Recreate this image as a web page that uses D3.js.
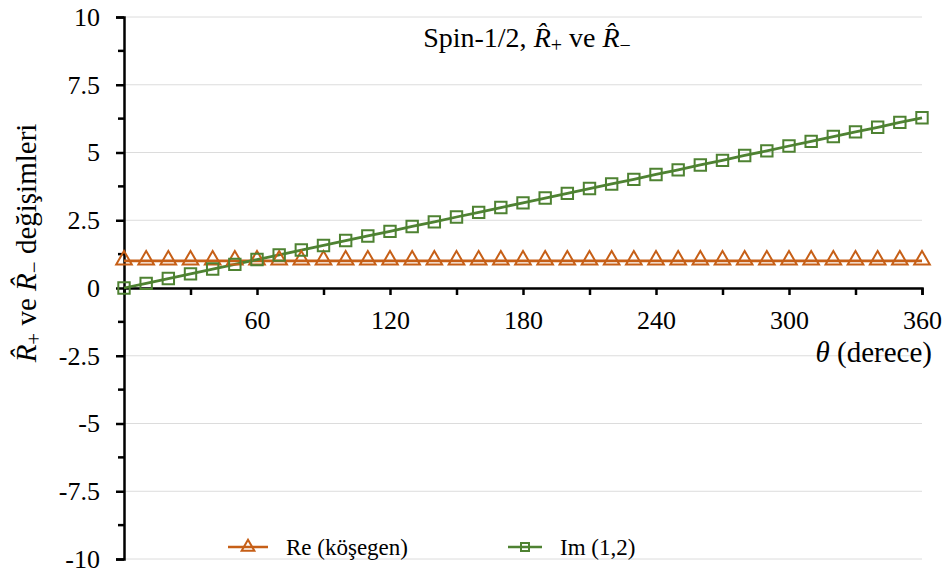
<!DOCTYPE html>
<html>
<head>
<meta charset="utf-8">
<script src="https://cdn.jsdelivr.net/npm/d3@7"></script>
<style>
  body { margin: 0; background: #fff; }
</style>
</head>
<body>
<div id="wrapper"></div>
<script>
// data
const angles = [0, 10, 20, 30, 40, 50, 60, 70, 80, 90, 100, 110, 120, 130, 140, 150, 160, 170, 180,
  190, 200, 210, 220, 230, 240, 250, 260, 270, 280, 290, 300, 310, 320, 330, 340, 350, 360];
const reValues = [1, 1, 1, 1, 1, 1, 1, 1, 1, 1, 1, 1, 1, 1, 1, 1, 1, 1, 1,
  1, 1, 1, 1, 1, 1, 1, 1, 1, 1, 1, 1, 1, 1, 1, 1, 1, 1];
const imValues = [0, 0.17, 0.35, 0.52, 0.70, 0.87, 1.05, 1.22, 1.40, 1.57, 1.75, 1.92, 2.09, 2.27,
  2.44, 2.62, 2.79, 2.97, 3.14, 3.32, 3.49, 3.67, 3.84, 4.01, 4.19, 4.36, 4.54, 4.71, 4.89, 5.06,
  5.24, 5.41, 5.59, 5.76, 5.93, 6.11, 6.28];
const xTicks = [60, 120, 180, 240, 300, 360];
const xMinorTicks = [0, 30, 60, 90, 120, 150, 180, 210, 240, 270, 300, 330, 360];
const yTicks = [-10, -7.5, -5, -2.5, 0, 2.5, 5, 7.5, 10];
const yMinorTicks = [-8.75, -6.25, -3.75, -1.25, 1.25, 3.75, 6.25, 8.75];
const yTickLabels = ["-10", "-7.5", "-5", "-2.5", "0", "2.5", "5", "7.5", "10"];

const orange = '#C65F17';
const green = '#4E8232';
const serif = '"Liberation Serif"';

const dimensions = {
  width: 952,
  height: 573,
  margin: { top: 17, right: 30, bottom: 14, left: 124 }
};
dimensions.boundedWidth = dimensions.width - dimensions.margin.left - dimensions.margin.right;
dimensions.boundedHeight = dimensions.height - dimensions.margin.top - dimensions.margin.bottom;

const svg = d3.select('#wrapper').append('svg')
  .attr('width', dimensions.width)
  .attr('height', dimensions.height)
  .attr('font-family', serif);

const bounds = svg.append('g')
  .attr('transform', `translate(${dimensions.margin.left},${dimensions.margin.top})`);

const xScale = d3.scaleLinear().domain([0, 360]).range([0, dimensions.boundedWidth]);
const yScale = d3.scaleLinear().domain([-10, 10]).range([dimensions.boundedHeight, 0]);

// gridlines
bounds.append('g').selectAll('line')
  .data(yTicks)
  .join('line')
  .attr('x1', 0).attr('x2', dimensions.boundedWidth)
  .attr('y1', d => yScale(d)).attr('y2', d => yScale(d))
  .attr('stroke', '#dcdcdc').attr('stroke-width', 1);

// y axis
const yAxis = bounds.append('g')
  .call(d3.axisLeft(yScale).tickValues(yTicks).tickSize(8)
    .tickFormat((d, i) => yTickLabels[i]).tickPadding(16))
  .attr('font-family', serif).attr('font-size', 26);
yAxis.select('.domain').attr('stroke', '#000').attr('stroke-width', 2.5);
yAxis.selectAll('.tick line').attr('stroke-width', 2.5);
bounds.append('g').selectAll('line')
  .data(yMinorTicks)
  .join('line')
  .attr('x1', -6).attr('x2', 0)
  .attr('y1', d => yScale(d)).attr('y2', d => yScale(d))
  .attr('stroke', '#000').attr('stroke-width', 2.5);

// x axis at y = 0
const xAxisG = bounds.append('g').attr('transform', `translate(0,${yScale(0)})`);
xAxisG.call(d3.axisBottom(xScale).tickValues(xMinorTicks).tickSize(7)
  .tickFormat(d => xTicks.includes(d) ? d : '').tickPadding(16))
  .attr('font-family', serif).attr('font-size', 26);
xAxisG.select('.domain').attr('stroke', '#000').attr('stroke-width', 2.5);
xAxisG.selectAll('.tick line').attr('stroke-width', 2.5);

// lines
const reData = angles.map((a, i) => ({ x: a, y: reValues[i] }));
const imData = angles.map((a, i) => ({ x: a, y: imValues[i] }));
const lineDrawer = d3.line().x(d => xScale(d.x)).y(d => yScale(d.y));

bounds.append('path')
  .attr('d', lineDrawer(reData))
  .attr('fill', 'none').attr('stroke', orange).attr('stroke-width', 2.8);
bounds.append('path')
  .attr('d', lineDrawer(imData))
  .attr('fill', 'none').attr('stroke', green).attr('stroke-width', 2.8);

const triangle = d3.symbol().type(d3.symbolTriangle).size(105);
const square = d3.symbol().type(d3.symbolSquare).size(130);

bounds.append('g').selectAll('path')
  .data(reData)
  .join('path')
  .attr('d', triangle)
  .attr('transform', d => `translate(${xScale(d.x)},${yScale(d.y) - 1})`)
  .attr('fill', 'none').attr('stroke', orange).attr('stroke-width', 2);
bounds.append('g').selectAll('path')
  .data(imData)
  .join('path')
  .attr('d', square)
  .attr('transform', d => `translate(${xScale(d.x)},${yScale(d.y)})`)
  .attr('fill', 'none').attr('stroke', green).attr('stroke-width', 2);

// title
const title = svg.append('text')
  .attr('x', 527).attr('y', 47)
  .attr('text-anchor', 'middle')
  .attr('font-family', serif)
  .attr('font-size', 28);
title.append('tspan').text('Spin-1/2, ');
title.append('tspan').attr('font-style', 'italic').text('R\u0302');
title.append('tspan').attr('baseline-shift', '-25%').attr('font-size', 20).text('+');
title.append('tspan').text(' ve ');
title.append('tspan').attr('font-style', 'italic').text('R\u0302');
title.append('tspan').attr('baseline-shift', '-25%').attr('font-size', 20).text('\u2212');

// x axis title
const xTitle = svg.append('text')
  .attr('x', 932).attr('y', 362)
  .attr('text-anchor', 'end')
  .attr('font-family', serif)
  .attr('font-size', 29);
xTitle.append('tspan').attr('font-style', 'italic').text('\u03b8');
xTitle.append('tspan').text(' (derece)');

// y axis title
const yTitle = svg.append('text')
  .attr('transform', 'translate(36,243) rotate(-90)')
  .attr('text-anchor', 'middle')
  .attr('font-family', serif)
  .attr('font-size', 29);
yTitle.append('tspan').attr('font-style', 'italic').text('R\u0302');
yTitle.append('tspan').attr('baseline-shift', '-25%').attr('font-size', 21).text('+');
yTitle.append('tspan').text(' ve ');
yTitle.append('tspan').attr('font-style', 'italic').text('R\u0302');
yTitle.append('tspan').attr('baseline-shift', '-25%').attr('font-size', 21).text('\u2212');
yTitle.append('tspan').text(' değişimleri');

// legend
const legendItems = [
  { label: 'Re (köşegen)', color: orange, symbol: d3.symbol().type(d3.symbolTriangle).size(70), x: 228, w: 40 },
  { label: 'Im (1,2)', color: green, symbol: d3.symbol().type(d3.symbolSquare).size(64), x: 508, w: 34 }
];
const legend = svg.append('g');
legendItems.forEach(item => {
  const g = legend.append('g').attr('transform', `translate(${item.x},547)`);
  g.append('line').attr('x1', 0).attr('x2', item.w).attr('y1', 0).attr('y2', 0)
    .attr('stroke', item.color).attr('stroke-width', 2.5);
  g.append('path').attr('d', item.symbol).attr('transform', `translate(${item.w / 2},0)`)
    .attr('fill', 'none').attr('stroke', item.color).attr('stroke-width', 2);
  g.append('text').attr('x', item.w + 18).attr('y', 8)
    .attr('font-family', serif).attr('font-size', 23).text(item.label);
});
</script>
</body>
</html>
